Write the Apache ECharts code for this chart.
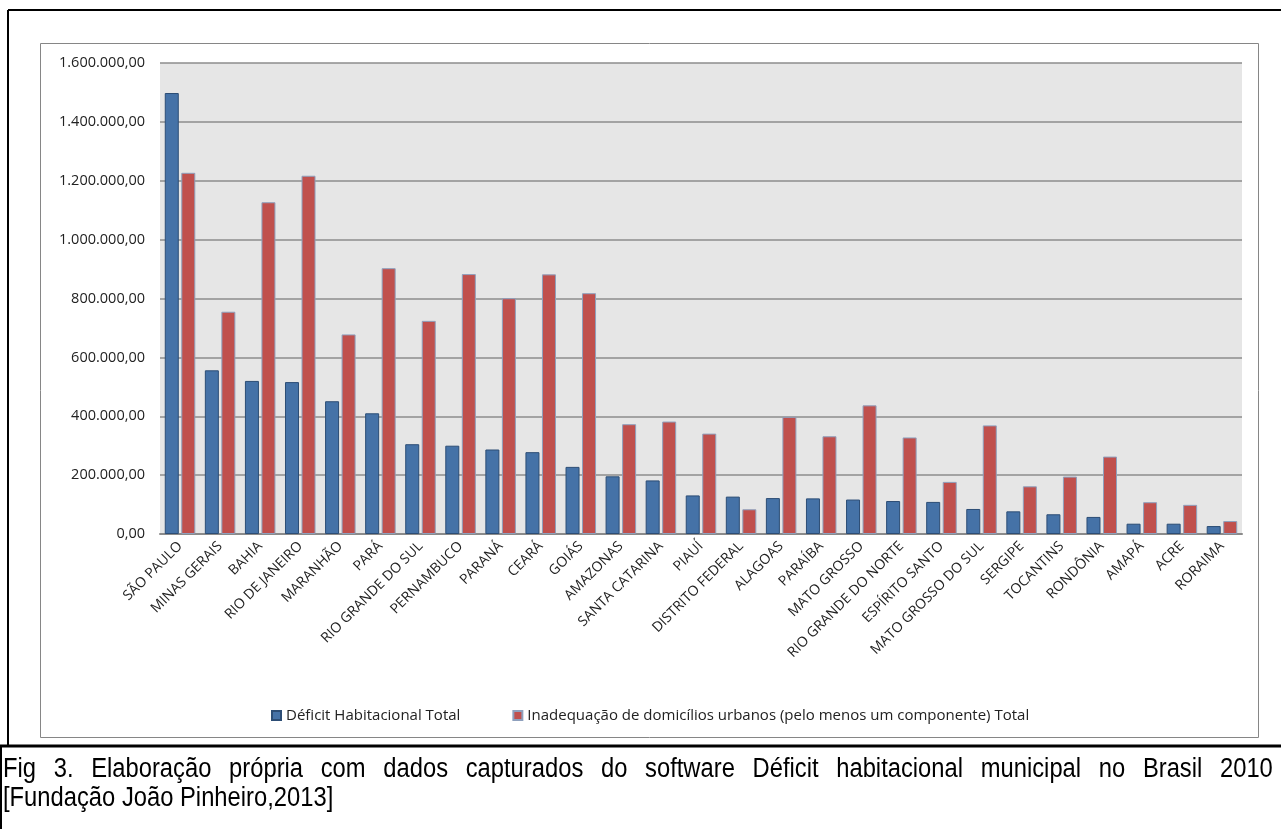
<!DOCTYPE html>
<html>
<head>
<meta charset="utf-8">
<script src="https://cdn.jsdelivr.net/npm/echarts@6/dist/echarts.min.js"></script>
<style>
  html, body { margin: 0; padding: 0; background: #fff; }
  #wrap { position: relative; width: 1281px; height: 829px; overflow: hidden; }
  #chart { width: 1281px; height: 829px; }
  /* legenda da figura: fonte um pouco estreitada com scaleX, 1a linha justificada */
  #legenda {
    position: absolute; left: 3px; top: 754px; width: 1443px;
    font-family: "Liberation Sans", Arial, sans-serif;
    font-size: 27px; line-height: 29px; color: #000;
    transform: scaleX(0.88); transform-origin: 0 0;
  }
  #legenda div { white-space: nowrap; }
  #legenda div.just { text-align: justify; text-align-last: justify; white-space: normal; }
</style>
</head>
<body>
<div id="wrap">
  <div id="chart"></div>
  <div id="legenda"></div>
</div>
<script>
var estados = ['SÃO PAULO', 'MINAS GERAIS', 'BAHIA', 'RIO DE JANEIRO', 'MARANHÃO', 'PARÁ',
    'RIO GRANDE DO SUL', 'PERNAMBUCO', 'PARANÁ', 'CEARÁ', 'GOIÁS', 'AMAZONAS', 'SANTA CATARINA',
    'PIAUÍ', 'DISTRITO FEDERAL', 'ALAGOAS', 'PARAÍBA', 'MATO GROSSO', 'RIO GRANDE DO NORTE',
    'ESPÍRITO SANTO', 'MATO GROSSO DO SUL', 'SERGIPE', 'TOCANTINS', 'RONDÔNIA', 'AMAPÁ', 'ACRE', 'RORAIMA'];

var deficitTotal = [1498000, 556000, 520000, 516000, 451000, 410000, 305000, 300000, 287000, 278000,
    228000, 196000, 182000, 131000, 127000, 122000, 121000, 117000, 112000, 109000,
    85000, 77000, 67000, 58000, 35000, 35000, 27000];

var inadequacaoTotal = [1227000, 755000, 1127000, 1217000, 678000, 903000, 724000, 883000, 801000, 882000,
    818000, 373000, 382000, 341000, 84000, 398000, 332000, 437000, 328000, 177000,
    369000, 162000, 195000, 263000, 108000, 99000, 44000];

var legendNames = ['Déficit Habitacional Total', 'Inadequação de domicílios urbanos (pelo menos um componente) Total'];

var captionLines = ['Fig 3. Elaboração própria com dados capturados do software Déficit habitacional municipal no Brasil 2010',
    '[Fundação João Pinheiro,2013]'];

// 1600000 -> "1.600.000,00"
function formatBR(v) {
    var s = Math.round(v).toString().replace(/\B(?=(\d{3})+(?!\d))/g, '.');
    return s + ',00';
}

var legendaEl = document.getElementById('legenda');
captionLines.forEach(function(t, i) {
    var d = document.createElement('div');
    if (i < captionLines.length - 1) d.className = 'just';
    d.textContent = t;
    legendaEl.appendChild(d);
});

var chart = echarts.init(document.getElementById('chart'));
var labelFont = '"Open Sans", sans-serif';

var option = {
    animation: false,
    backgroundColor: '#ffffff',
    textStyle: { fontFamily: labelFont },
    graphic: [
        // moldura da tabela
        { type: 'line', shape: { x1: 8, y1: 10, x2: 1290, y2: 10 }, style: { stroke: '#000', lineWidth: 2 } },
        { type: 'line', shape: { x1: 8, y1: 10, x2: 8, y2: 746 }, style: { stroke: '#000', lineWidth: 2 } },
        { type: 'line', shape: { x1: 0, y1: 746, x2: 1290, y2: 746 }, style: { stroke: '#000', lineWidth: 3 } },
        { type: 'line', shape: { x1: 1, y1: 746, x2: 1, y2: 829 }, style: { stroke: '#000', lineWidth: 2 } },
        // borda da área do gráfico
        { type: 'rect', shape: { x: 40.5, y: 43.5, width: 1218, height: 694 },
          style: { fill: 'none', stroke: '#868686', lineWidth: 1 } }
    ],
    legend: {
        data: legendNames,
        left: 266,
        top: 703,
        itemWidth: 9,
        itemHeight: 9,
        itemGap: 52,
        icon: 'rect',
        textStyle: { fontSize: 15, color: '#222', fontFamily: labelFont }
    },
    grid: {
        left: 160,
        right: 39,
        top: 63,
        bottom: 295,
        show: true,
        backgroundColor: '#e6e6e6',
        borderWidth: 0
    },
    xAxis: {
        type: 'category',
        data: estados,
        axisLine: { show: true, lineStyle: { color: '#8b8b8b', width: 2 } },
        axisTick: { show: false },
        axisLabel: {
            interval: 0,
            rotate: 45,
            fontSize: 14,
            color: '#222',
            margin: 10
        }
    },
    yAxis: {
        type: 'value',
        min: 0,
        max: 1600000,
        interval: 200000,
        axisLine: { show: false },
        axisTick: { show: false },
        axisLabel: {
            fontSize: 14.5,
            color: '#222',
            margin: 15,
            formatter: formatBR
        },
        splitLine: { lineStyle: { color: '#8c8c8c', width: 1.5 } }
    },
    series: [
        {
            name: legendNames[0],
            type: 'bar',
            data: deficitTotal,
            barWidth: 14,
            barGap: '18%',
            itemStyle: { color: '#4572a7', borderColor: '#2c4d75', borderWidth: 1 }
        },
        {
            name: legendNames[1],
            type: 'bar',
            data: inadequacaoTotal,
            barWidth: 14,
            itemStyle: { color: '#c0504d', borderColor: '#8ea0bd', borderWidth: 1 }
        }
    ]
};

chart.setOption(option);
</script>
</body>
</html>
